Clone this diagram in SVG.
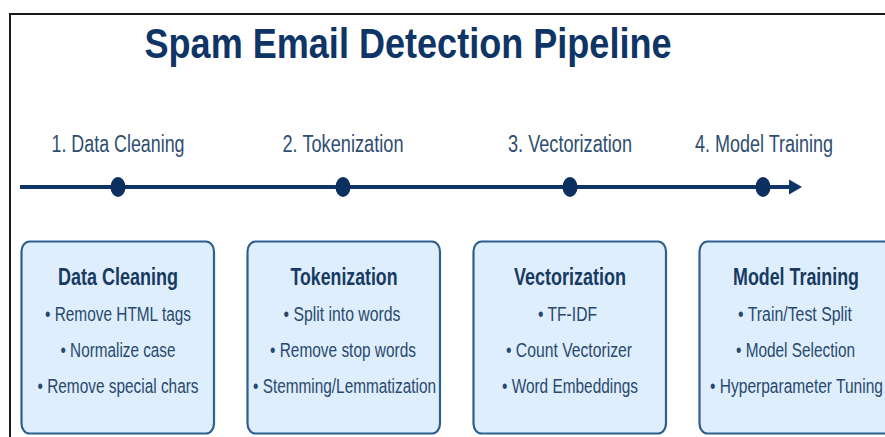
<svg xmlns="http://www.w3.org/2000/svg" width="885" height="437" viewBox="0 0 885 437">
  <defs>
    <style>
      .frame { fill: #ffffff; stroke: #1a1a1a; stroke-width: 2; }
      .title { font-family: "Liberation Sans", Arial, sans-serif; font-weight: bold; font-size: 42px; fill: #0f3566; text-anchor: middle; }
      .step { font-family: "Liberation Sans", Arial, sans-serif; font-size: 23px; fill: #2e4d70; text-anchor: middle; }
      .axis { stroke: #0f3566; stroke-width: 4; fill: none; }
      .dot { fill: #0b2f5e; }
      .head { fill: #0f3566; }
      .card { fill: #dfeefd; stroke: #2e5f8f; stroke-width: 2.2; }
      .card-title { font-family: "Liberation Sans", Arial, sans-serif; font-weight: bold; font-size: 24px; fill: #173a63; text-anchor: middle; }
      .item { font-family: "Liberation Sans", Arial, sans-serif; font-size: 20px; fill: #28496d; text-anchor: middle; }
    </style>
  </defs>

  <!-- outer frame -->
  <rect class="frame" x="10" y="14" width="900" height="450"/>

  <!-- heading -->
  <text class="title" x="408" y="58" textLength="527" lengthAdjust="spacingAndGlyphs">Spam Email Detection Pipeline</text>

  <!-- stage labels above the timeline -->
  <g id="stage-labels">
    <text class="step" x="118" y="152" textLength="133" lengthAdjust="spacingAndGlyphs">1. Data Cleaning</text>
    <text class="step" x="343" y="152" textLength="121" lengthAdjust="spacingAndGlyphs">2. Tokenization</text>
    <text class="step" x="570" y="152" textLength="124" lengthAdjust="spacingAndGlyphs">3. Vectorization</text>
    <text class="step" x="764" y="152" textLength="138" lengthAdjust="spacingAndGlyphs">4. Model Training</text>
  </g>

  <!-- timeline -->
  <g id="connectors">
    <line class="axis" x1="20" y1="187" x2="792" y2="187"/>
    <polygon class="head" points="789,179.5 802,187 789,194.5"/>
    <ellipse class="dot" cx="118" cy="187" rx="7.5" ry="10"/>
    <ellipse class="dot" cx="343" cy="187" rx="7.5" ry="10"/>
    <ellipse class="dot" cx="570" cy="187" rx="7.5" ry="10"/>
    <ellipse class="dot" cx="763" cy="187" rx="7.5" ry="10"/>
  </g>

  <!-- stage cards -->
  <g id="data-cleaning">
    <rect class="card" x="21.5" y="241.5" width="192.5" height="192" rx="8" ry="10"/>
    <text class="card-title" x="118" y="285" textLength="120" lengthAdjust="spacingAndGlyphs">Data Cleaning</text>
    <text class="item" x="118" y="321" textLength="146" lengthAdjust="spacingAndGlyphs">• Remove HTML tags</text>
    <text class="item" x="118" y="357" textLength="115" lengthAdjust="spacingAndGlyphs">• Normalize case</text>
    <text class="item" x="118" y="392.5" textLength="161" lengthAdjust="spacingAndGlyphs">• Remove special chars</text>
  </g>

  <g id="tokenization">
    <rect class="card" x="247.5" y="241.5" width="192.5" height="192" rx="8" ry="10"/>
    <text class="card-title" x="344" y="285" textLength="107" lengthAdjust="spacingAndGlyphs">Tokenization</text>
    <text class="item" x="342" y="321" textLength="117" lengthAdjust="spacingAndGlyphs">• Split into words</text>
    <text class="item" x="343" y="357" textLength="146" lengthAdjust="spacingAndGlyphs">• Remove stop words</text>
    <text class="item" x="344.5" y="392.5" textLength="183" lengthAdjust="spacingAndGlyphs">• Stemming/Lemmatization</text>
  </g>

  <g id="vectorization">
    <rect class="card" x="473.5" y="241.5" width="192.5" height="192" rx="8" ry="10"/>
    <text class="card-title" x="570" y="285" textLength="112" lengthAdjust="spacingAndGlyphs">Vectorization</text>
    <text class="item" x="567.5" y="321" textLength="59" lengthAdjust="spacingAndGlyphs">• TF-IDF</text>
    <text class="item" x="569" y="357" textLength="126" lengthAdjust="spacingAndGlyphs">• Count Vectorizer</text>
    <text class="item" x="570" y="392.5" textLength="136" lengthAdjust="spacingAndGlyphs">• Word Embeddings</text>
  </g>

  <g id="model-training">
    <rect class="card" x="699.5" y="241.5" width="192.5" height="192" rx="8" ry="10"/>
    <text class="card-title" x="796" y="285" textLength="126" lengthAdjust="spacingAndGlyphs">Model Training</text>
    <text class="item" x="795" y="321" textLength="114" lengthAdjust="spacingAndGlyphs">• Train/Test Split</text>
    <text class="item" x="795.5" y="357" textLength="119" lengthAdjust="spacingAndGlyphs">• Model Selection</text>
    <text class="item" x="796.5" y="392.5" textLength="173" lengthAdjust="spacingAndGlyphs">• Hyperparameter Tuning</text>
  </g>
</svg>
